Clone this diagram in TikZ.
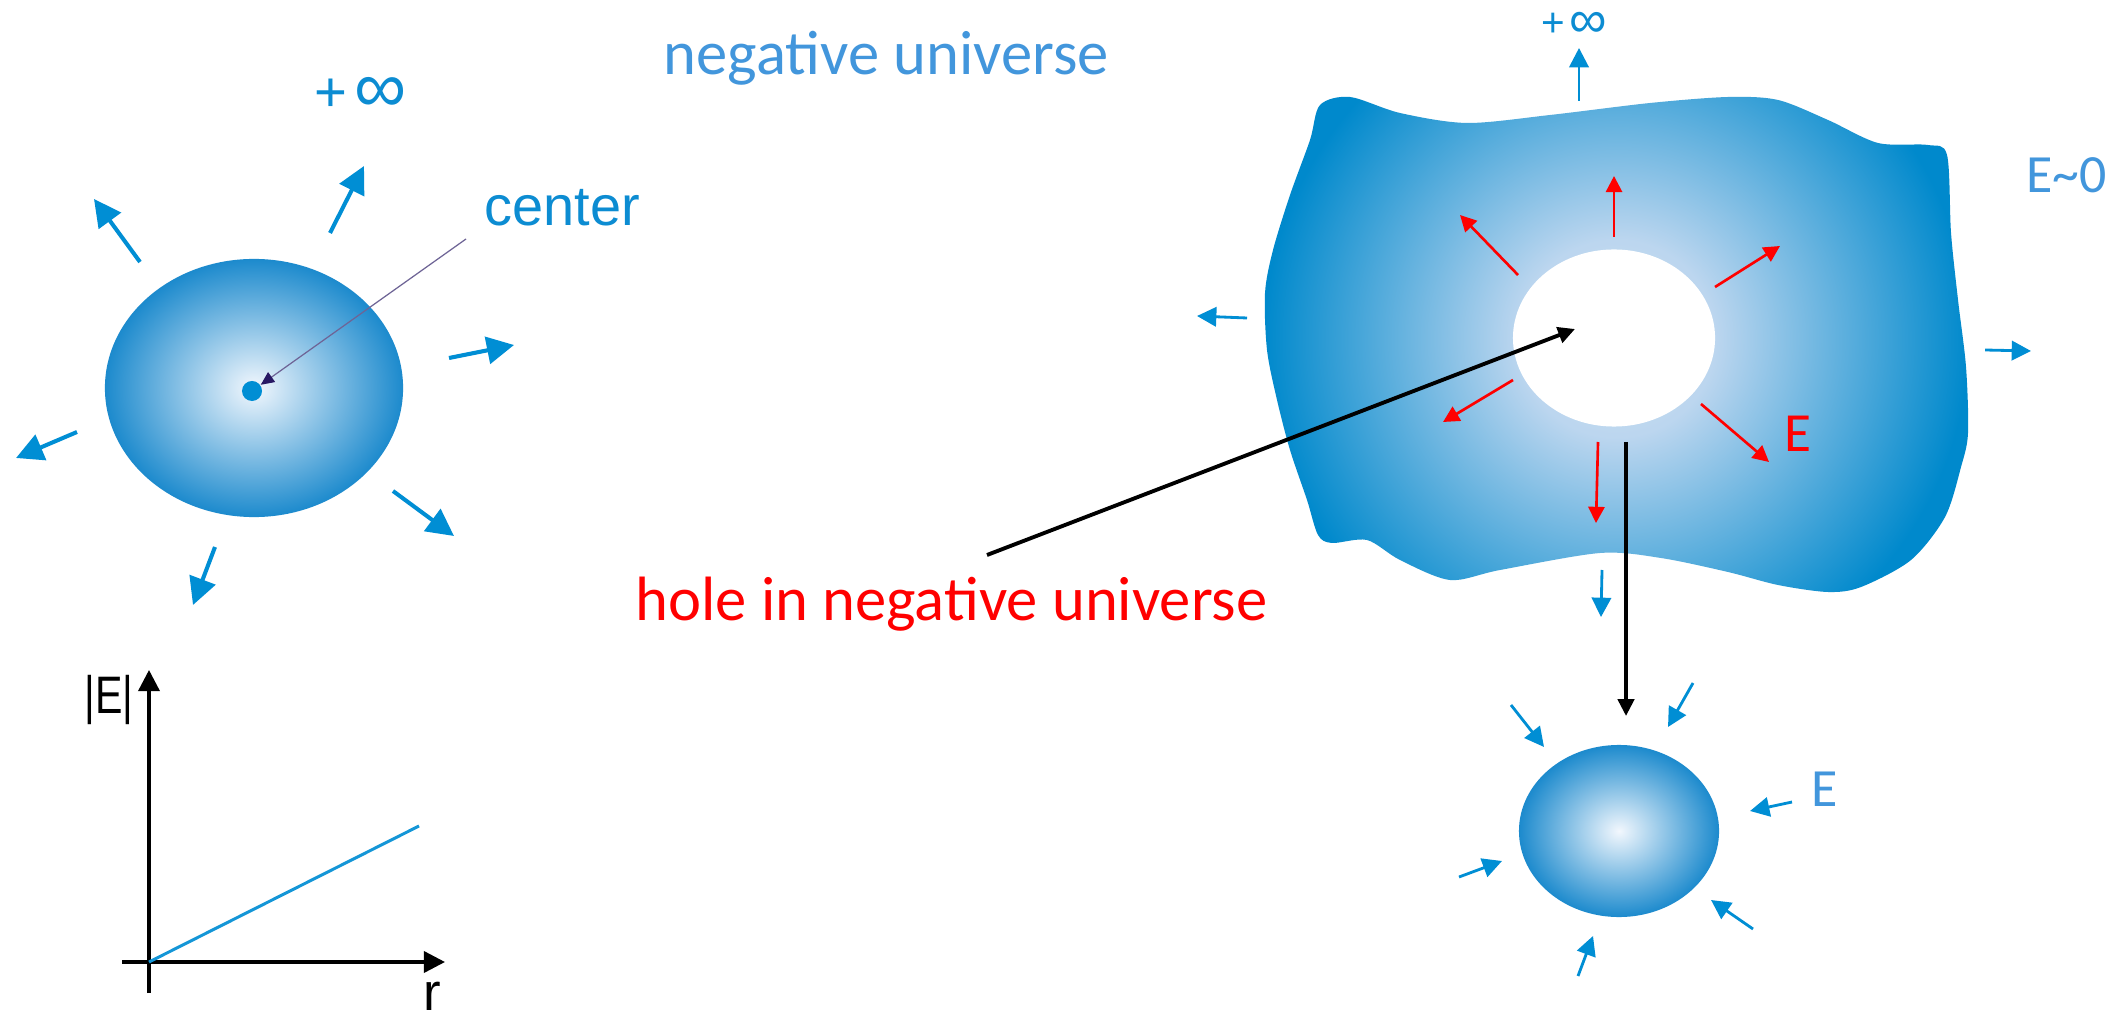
\documentclass[tikz,border=0pt]{standalone}
\usepackage{fontspec}
\usepackage{graphicx}
\setmainfont{Carlito}
\newfontfamily\calfont{Carlito}
\newfontfamily\arialfont{Liberation Sans}
\usetikzlibrary{arrows.meta}
\definecolor{arrowblue}{RGB}{0,142,212}
\definecolor{textblue}{RGB}{66,150,220}
\definecolor{labelblue}{RGB}{12,140,210}
\definecolor{balllight}{RGB}{242,247,253}
\definecolor{balldark}{RGB}{28,138,205}
\definecolor{bloblight}{RGB}{200,223,243}
\definecolor{blobmid}{RGB}{188,214,239}
\definecolor{blobdark}{RGB}{0,137,204}
\definecolor{centerline}{RGB}{110,100,150}
\definecolor{navyhead}{RGB}{40,25,100}
\definecolor{plotblue}{RGB}{20,150,215}
\definecolor{pureRed}{RGB}{255,0,0}
\pgfdeclareradialshading{ballshade}{\pgfpointorigin}{color(0bp)=(balllight); color(25bp)=(balldark); color(50bp)=(balldark)}
\pgfdeclareradialshading{blobshade}{\pgfpointorigin}{color(0bp)=(bloblight); color(7bp)=(blobmid); color(25bp)=(blobdark); color(50bp)=(blobdark)}
\tikzset{
  bigarrow/.style={line width=1.15pt, draw=arrowblue, -{Triangle[length=7.7pt,width=7.7pt]}},
  smallarrow/.style={line width=0.8pt, draw=arrowblue, -{Triangle[length=5.5pt,width=5.5pt]}},
  redarrow/.style={line width=0.75pt, draw=pureRed, -{Triangle[length=4.6pt,width=4.6pt]}},
  blackarrow/.style={line width=1.1pt, draw=black, -{Triangle[length=4.8pt,width=4.6pt]}},
  axisarrow/.style={line width=0.95pt, draw=black, -{Triangle[length=6pt,width=6pt]}},
  centerptr/.style={line width=0.35pt, draw=centerline, -{Triangle[length=3.8pt,width=3.4pt,color=navyhead]}},
  calibritext/.style={inner sep=0pt, anchor=base west, font=\calfont\fontsize{#1}{#1}\selectfont},
  arialtext/.style={inner sep=0pt, font=\arialfont\fontsize{#1}{#1}\selectfont},
}
\begin{document}
\begin{tikzpicture}[x=0.01cm,y=-0.01cm]
\useasboundingbox (0,0) rectangle (2128,1013);
\fill[white] (0,0) rectangle (2128,1013);

% ---------- left sphere ----------
\shade[shading=ballshade] (254,388) ellipse [x radius=1.49cm, y radius=1.29cm];
\coordinate (lball) at (254,388);
\node[circle, fill=arrowblue, inner sep=0pt, minimum size=0.2cm] (cdot) at (252,391) {};
\node[arialtext=15.9pt, anchor=base west, text=labelblue] (centerlbl) at (484,226) {center};
\coordinate (cstart) at (466,239);
\draw[centerptr] (cstart) -- (cdot);
\node[arialtext=16pt, text=labelblue] (linf) at (361,95) {+\kern2pt\raisebox{-0.4pt}{\scalebox{1.3}{∞}}};

\draw[bigarrow] (330,233) -- (364,166);
\draw[bigarrow] (140,262) -- (94,199);
\draw[bigarrow] (449,358) -- (514,345);
\draw[bigarrow] (77,432) -- (16,458);
\draw[bigarrow] (393,491) -- (454,536);
\draw[bigarrow] (215,547) -- (193,605);

% ---------- graph ----------
\coordinate (origin) at (149,962);
\coordinate (ytip) at (149,670);
\coordinate (ybot) at (149,993);
\coordinate (xleft) at (122,962);
\coordinate (xtip) at (445,962);
\coordinate (lineend) at (419,826);
\draw[axisarrow] (ybot) -- (ytip);
\draw[axisarrow] (xleft) -- (xtip);
\draw[line width=0.85pt, plotblue] (origin) -- (lineend);
\node[arialtext=15pt, anchor=base west] (ylbl) at (84,713) {\scalebox{0.78}[1]{|E|}};
\node[arialtext=15pt, anchor=base west] (xlbl) at (423,1010) {r};

% ---------- title texts ----------
\node[calibritext=17.8pt, text=textblue] (title) at (663,75) {negative universe};
\node[calibritext=17.8pt, text=pureRed] (holelbl) at (635,620) {hole in negative universe};

% ---------- blob (bounding box widened to a square so the gradient is circular) ----------
\shade[shading=blobshade] (1616,-13) (1616,690) plot[smooth cycle, tension=0.5] coordinates {
  (1320,105) (1350,97) (1400,113) (1467,123) (1550,115) (1650,103) (1728,97)
  (1778,100) (1828,120) (1878,143) (1928,145) (1947,155)
  (1951,233) (1958,300) (1966,367) (1968,433) (1961,467) (1945,517)
  (1911,560) (1861,587) (1828,592) (1778,585) (1728,572) (1661,558)
  (1600,553) (1500,570) (1450,580) (1400,560) (1367,540) (1332,543) (1318,535)
  (1307,500) (1290,450) (1277,400) (1267,350) (1265,293) (1273,250)
  (1290,195) (1310,140) };
\fill[white] (1614,338) ellipse [x radius=1.01cm, y radius=0.885cm];
\coordinate (hole) at (1614,338);

\node[arialtext=11.5pt, text=labelblue] (rinf) at (1574,25) {+\kern1.3pt\raisebox{-0.3pt}{\scalebox{1.3}{∞}}};
\node[calibritext=15.3pt, text=textblue] (ezero) at (2026,193) {E{\char`\~}0};
\node[calibritext=15.7pt, text=pureRed] (ered) at (1784,452) {E};

\draw[smallarrow] (1579,101) -- (1579,48);
\draw[smallarrow] (1247,318) -- (1197,316);
\draw[smallarrow] (1985,350) -- (2031,351);
\draw[smallarrow] (1602,570) -- (1601,617);

\draw[redarrow] (1614,237) -- (1614,176);
\draw[redarrow] (1518,275) -- (1460,215);
\draw[redarrow] (1715,287) -- (1780,246);
\draw[redarrow] (1513,380) -- (1443,422);
\draw[redarrow] (1598,442) -- (1596,523);
\draw[redarrow] (1701,404) -- (1769,462);

% ---------- small sphere ----------
\shade[shading=ballshade] (1619,831) ellipse [x radius=1.0cm, y radius=0.86cm];
\coordinate (sball) at (1619,831);
\node[calibritext=15.3pt, text=textblue] (eblue) at (1811,806) {E};

\draw[smallarrow] (1511,705) -- (1544,747);
\draw[smallarrow] (1693,683) -- (1668,727);
\draw[smallarrow] (1792,802) -- (1750,811);
\draw[smallarrow] (1753,929) -- (1711,900);
\draw[smallarrow] (1578,976) -- (1593,936);
\draw[smallarrow] (1459,877) -- (1502,861);

% ---------- black connectors ----------
\coordinate (holestart) at (987,555);
\coordinate (holetip) at (1575,329);
\coordinate (dropstart) at (1626,442);
\coordinate (droptip) at (1626,716);
\draw[blackarrow] (holestart) -- (holetip);
\draw[blackarrow] (dropstart) -- (droptip);
\end{tikzpicture}
\end{document}
